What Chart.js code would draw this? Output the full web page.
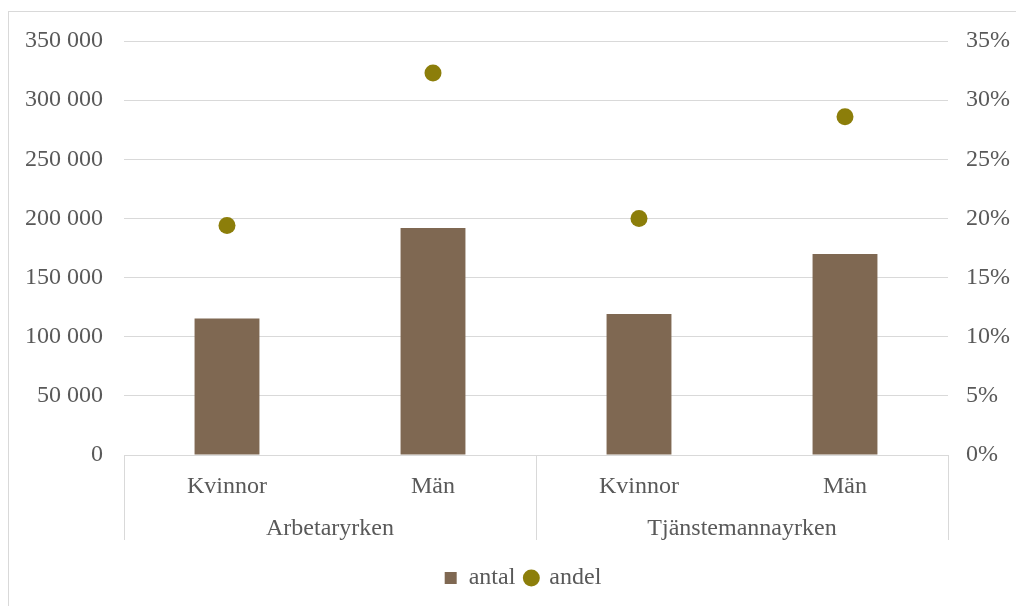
<!DOCTYPE html>
<html>
<head>
<meta charset="utf-8">
<script src="https://cdn.jsdelivr.net/npm/chart.js@4"></script>
<style>
  html, body { margin: 0; padding: 0; background: #fff; }
  #wrap { position: relative; width: 1016px; height: 606px; overflow: hidden; }
</style>
</head>
<body>
<div id="wrap"><canvas id="chart" width="1016" height="606"></canvas></div>
<script>
const groups = ["Arbetaryrken", "Tjänstemannayrken"];
const groupSizes = [2, 2];
const categories = ["Kvinnor", "Män", "Kvinnor", "Män"];
const antal = [115500, 192000, 119200, 170000];
const andel = [0.194, 0.323, 0.2, 0.286];
const leftMax = 350000;
const leftStep = 50000;
const rightMax = 0.35;
const rightStep = 0.05;

const textColor = "#595959";
const lineColor = "#d9d9d9";
const font = { family: "'Liberation Serif', 'Times New Roman', serif", size: 24 };

// outer frame + group labels under the category axis
const groupAxis = {
  id: "groupAxis",
  afterLayout(chart) {
    // legend sits a bit right of centre in the original
    const lg = chart.legend;
    lg.left += 15;
    lg.right += 15;
    lg.top += 1;
    lg.bottom += 1;
  },
  beforeDraw(chart) {
    const ctx = chart.ctx;
    ctx.save();
    ctx.strokeStyle = lineColor;
    ctx.lineWidth = 1;
    ctx.strokeRect(8.5, 11.5, 1100, 700);
    ctx.restore();
  },
  afterDraw(chart) {
    const x = chart.scales.x;
    const ctx = chart.ctx;
    const half = (x.getPixelForValue(1) - x.getPixelForValue(0)) / 2;
    const top = chart.chartArea.bottom;
    ctx.save();
    ctx.strokeStyle = lineColor;
    ctx.lineWidth = 1;
    ctx.fillStyle = textColor;
    ctx.font = font.size + "px " + font.family;
    ctx.textAlign = "center";
    ctx.textBaseline = "middle";
    let idx = 0;
    groups.forEach((g, gi) => {
      const left = Math.round(x.getPixelForValue(idx) - half);
      const right = Math.round(x.getPixelForValue(idx + groupSizes[gi] - 1) + half);
      [left, right].forEach((px) => {
        ctx.beginPath();
        ctx.moveTo(px + 0.5, top);
        ctx.lineTo(px + 0.5, 540);
        ctx.stroke();
      });
      ctx.fillText(g, (left + right) / 2, 529);
      idx += groupSizes[gi];
    });
    ctx.restore();
  },
};

new Chart(document.getElementById("chart"), {
  data: {
    labels: categories,
    datasets: [
      {
        type: "bar",
        label: "antal",
        data: antal,
        backgroundColor: "#7f6852",
        barPercentage: 0.315,
        categoryPercentage: 1,
        yAxisID: "y",
        pointStyle: "rect",
        order: 1,
      },
      {
        type: "line",
        label: "andel",
        data: andel,
        showLine: false,
        pointRadius: 8.5,
        pointBackgroundColor: "#8c7e0a",
        pointBorderWidth: 0,
        backgroundColor: "#8c7e0a",
        borderColor: "#8c7e0a",
        pointStyle: "circle",
        yAxisID: "y1",
        order: 0,
      },
    ],
  },
  options: {
    responsive: false,
    animation: false,
    layout: { padding: { top: 41, bottom: 7, left: 0, right: 0 } },
    plugins: {
      tooltip: { enabled: false },
      legend: {
        position: "bottom",
        labels: {
          usePointStyle: true,
          boxWidth: 12,
          boxHeight: 12,
          padding: 10,
          color: textColor,
          font: font,
          sort: (a, b) => a.datasetIndex - b.datasetIndex,
        },
      },
    },
    scales: {
      x: {
        grid: { display: false, drawTicks: false },
        border: { display: true, color: lineColor },
        ticks: { color: textColor, font: font, padding: 17, maxRotation: 0 },
        afterFit: (s) => { s.height = 100; },
      },
      y: {
        position: "left",
        min: 0,
        max: leftMax,
        grid: { color: lineColor, drawTicks: false },
        border: { display: false },
        ticks: {
          stepSize: leftStep,
          color: textColor,
          font: font,
          padding: 21,
          callback: (v) => String(v).replace(/\B(?=(\d{3})+(?!\d))/g, " "),
        },
        afterFit: (s) => { s.width = 124; },
      },
      y1: {
        position: "right",
        min: 0,
        max: rightMax,
        grid: { display: false, drawTicks: false },
        border: { display: false },
        ticks: {
          stepSize: rightStep,
          color: textColor,
          font: font,
          padding: 18,
          callback: (v) => Math.round(v * 100) + "%",
        },
        afterFit: (s) => { s.width = 68; },
      },
    },
  },
  plugins: [groupAxis],
});
</script>
</body>
</html>
